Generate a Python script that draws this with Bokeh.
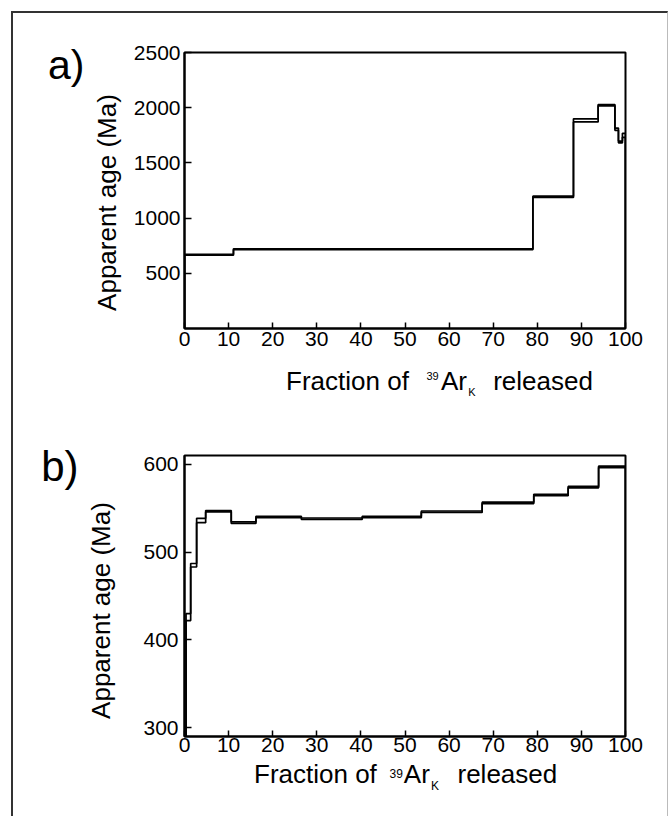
from bokeh.plotting import figure
from bokeh.models import Range1d, FixedTicker, LinearAxis
from bokeh.layouts import column
from bokeh.embed import file_html
from bokeh.resources import INLINE

# ---------------- data ----------------
# panel a: cumulative 39ArK released (%) step boundaries, apparent ages (Ma), 1-sigma errors
a_steps = [0, 11.1, 79.0, 88.2, 93.8, 97.6, 98.4, 99.3, 100]
a_age = [668, 718, 1193, 1885, 2023, 1805, 1690, 1750]
a_err = [4, 4, 6, 14, 6, 10, 8, 18]

# panel b
b_steps = [0, 0.35, 1.4, 2.75, 4.8, 10.6, 16.2, 26.5, 40.3, 53.7, 67.5, 79.2, 87.0, 93.9, 100]
b_age = [270, 426, 485, 536, 546.5, 533.5, 540, 538, 540, 546, 556, 565, 574, 597]
b_err = [10, 4, 2, 2.5, 0.8, 0.8, 0.8, 0.8, 0.8, 0.8, 0.8, 0.8, 0.8, 0.8]

x_ticks = [0, 10, 20, 30, 40, 50, 60, 70, 80, 90, 100]
a_yticks = [500, 1000, 1500, 2000, 2500]
b_yticks = [300, 400, 500, 600]
a_yrange = (0, 2500)
b_yrange = (290, 610)

panel_letters = ["a)", "b)"]
y_title = "Apparent age (Ma)"
x_title_parts = ["Fraction of", "39", "Ar", "K", "released"]

FONT = "Liberation Sans"
INK = "#000000"
ORIGIN = 13  # page px where figures start (left and top)


def step_path(bounds, levels, base):
    xs = [bounds[0]]
    ys = [base]
    for i, lv in enumerate(levels):
        xs += [bounds[i], bounds[i + 1]]
        ys += [lv, lv]
    xs.append(bounds[-1])
    ys.append(base)
    return xs, ys


class Panel:
    def __init__(self, steps, ages, errs, yr, yticks, W, H, fl, fw, ft, fh, page_top,
                 x_standoff, y_standoff):
        self.yr, self.fl, self.fw, self.ft, self.fh = yr, fl, fw, ft, fh
        left = fl - ORIGIN
        top = ft - page_top
        p = figure(width=W, height=H, output_backend="svg", toolbar_location=None,
                   x_range=Range1d(0, 100), y_range=Range1d(*yr),
                   min_border_left=left, min_border_right=W - left - fw,
                   min_border_top=top, min_border_bottom=H - top - fh,
                   background_fill_color="white", border_fill_color="white")
        p.grid.visible = False
        p.outline_line_color = INK
        p.outline_line_width = 2
        p.outline_line_alpha = 1.0
        for ax, ticks in ((p.xaxis, x_ticks), (p.yaxis, yticks)):
            ax.ticker = FixedTicker(ticks=ticks, minor_ticks=[])
            ax.axis_line_color = INK
            ax.axis_line_width = 2
            ax.major_tick_line_color = INK
            ax.major_tick_line_width = 1.5
            ax.major_tick_out = 0
            ax.minor_tick_in = 0
            ax.minor_tick_out = 0
            ax.major_label_text_font = FONT
            ax.major_label_text_font_size = "21px"
            ax.major_label_text_color = INK
        p.xaxis.major_tick_in = 6
        p.yaxis.major_tick_in = 7
        p.xaxis.major_label_standoff = x_standoff
        p.yaxis.major_label_standoff = y_standoff

        lo = [a - e for a, e in zip(ages, errs)]
        hi = [a + e for a, e in zip(ages, errs)]
        for lv in (lo, hi):
            xs, ys = step_path(steps, lv, yr[0] - 50)
            p.line(xs, ys, line_color=INK, line_width=1.7)
        self.p = p

    def x_of(self, px):
        return round((px - self.fl) / self.fw * 100.0, 3)

    def y_of(self, py):
        y0, y1 = self.yr
        return round(y1 - (py - self.ft) / self.fh * (y1 - y0), 3)

    def text_axis(self, side, ticks, texts, size, standoff, orientation="horizontal"):
        ax = LinearAxis(ticker=FixedTicker(ticks=ticks, minor_ticks=[]),
                        major_label_overrides={t: s for t, s in zip(ticks, texts)},
                        axis_line_color=None, major_tick_line_color=None,
                        minor_tick_line_color=None,
                        major_tick_in=0, major_tick_out=0, minor_tick_in=0, minor_tick_out=0,
                        major_label_standoff=standoff, major_label_text_font=FONT,
                        major_label_text_font_size=f"{size}px",
                        major_label_text_color=INK,
                        major_label_orientation=orientation)
        self.p.add_layout(ax, side)


# ---- panel a ----
A = Panel(a_steps, a_age, a_err, a_yrange, a_yticks,
          654, 407, 184, 441, 52, 276, 13, 3, 4)
A.text_axis("left", [A.y_of(202)], [y_title], 26, 8, "vertical")
A.text_axis("left", [A.y_of(64)], [panel_letters[0]], 41, 5)
A.text_axis("below", [A.x_of(432)], [x_title_parts[1]], 11, 23)
A.text_axis("below", [A.x_of(347), A.x_of(453.5), A.x_of(542.5)],
            [x_title_parts[0], x_title_parts[2], x_title_parts[4]], 26, -17)
A.text_axis("below", [A.x_of(471.5)], [x_title_parts[3]], 11, -13)

# ---- panel b ----
B = Panel(b_steps, b_age, b_err, b_yrange, b_yticks,
          654, 396, 183, 448, 455, 281, 420, 1, 6)
B.text_axis("left", [B.y_of(610)], [y_title], 26, 24, "vertical")
B.text_axis("left", [B.y_of(466)], [panel_letters[1]], 42, 5)
B.text_axis("below", [B.x_of(398)], [x_title_parts[1]], 12, 14)
B.text_axis("below", [B.x_of(316), B.x_of(419), B.x_of(511)],
            [x_title_parts[0], x_title_parts[2], x_title_parts[4]], 26, -22)
B.text_axis("below", [B.x_of(437.5)], [x_title_parts[3]], 12, -13)

layout = column(A.p, B.p, spacing=0,
                styles={"margin-left": "11px", "margin-top": "11px",
                        "border-left": "2px solid #333333",
                        "border-top": "2px solid #333333",
                        "border-right": "1px solid #bbbbbb"})

open("out.html", "w").write(file_html(layout, INLINE))
